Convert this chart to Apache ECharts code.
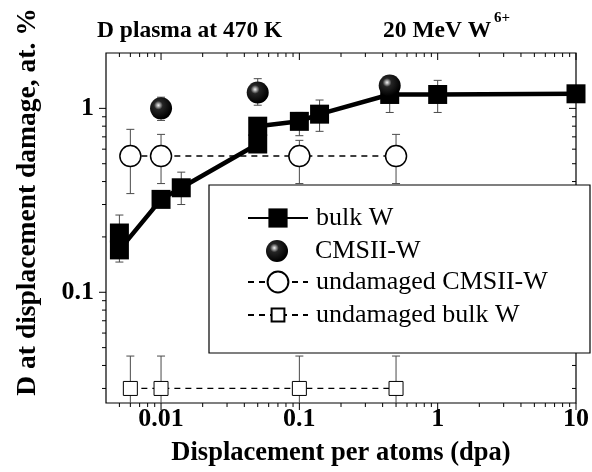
<!DOCTYPE html>
<html>
<head>
<meta charset="utf-8">
<script src="https://cdn.jsdelivr.net/npm/echarts@6/dist/echarts.min.js"></script>
<style>
html, body { margin: 0; padding: 0; background: #fff; }
#myChart { width: 592px; height: 472px; }
</style>
</head>
<body>
<div id="myChart"></div>
<script>
// bulk W, damaged
const bulkX = [0.005, 0.005, 0.01, 0.014, 0.05, 0.05, 0.1, 0.14, 0.45, 1, 10]
const bulkY = [0.21, 0.17, 0.32, 0.37, 0.64, 0.8, 0.85, 0.93, 1.19, 1.19, 1.2]
const bulkLo = [0.146, null, null, 0.3, null, null, 0.71, 0.75, 0.95, 0.95, null]
const bulkHi = [0.263, null, null, 0.45, null, null, 0.95, 1.11, 1.4, 1.42, null]
// CMSII-W, damaged
const cmsX = [0.01, 0.05, 0.45]
const cmsY = [1.0, 1.22, 1.33]
const cmsLo = [0.86, 1.04, 1.15]
const cmsHi = [1.15, 1.45, 1.5]
// undamaged CMSII-W
const undCmsX = [0.006, 0.01, 0.1, 0.5]
const undCmsY = [0.55, 0.55, 0.55, 0.55]
const undCmsLo = [0.344, 0.39, 0.39, 0.39]
const undCmsHi = [0.769, 0.722, 0.67, 0.722]
// undamaged bulk W
const undBulkX = [0.006, 0.01, 0.1, 0.5]
const undBulkY = [0.03, 0.03, 0.03, 0.03]
const undBulkLo = [0.02, 0.02, 0.02, 0.02]
const undBulkHi = [0.045, 0.045, 0.045, 0.045]
// ticks
const xMajor = [0.01, 0.1, 1, 10]
const xMinor = [0.005, 0.006, 0.007, 0.008, 0.009, 0.02, 0.03, 0.04, 0.05, 0.06, 0.07, 0.08, 0.09,
  0.2, 0.3, 0.4, 0.5, 0.6, 0.7, 0.8, 0.9, 2, 3, 4, 5, 6, 7, 8, 9]
const yMajor = [0.1, 1]
const yMinor = [0.03, 0.04, 0.05, 0.06, 0.07, 0.08, 0.09, 0.2, 0.3, 0.4, 0.5, 0.6, 0.7, 0.8, 0.9]

const serif = 'Liberation Serif, DejaVu Serif, serif'
const boldText = { fontFamily: serif, fontWeight: 'bold', fontSize: 23.5, color: '#000' }

function pairs (xs, ys) {
  return xs.map((x, i) => [x, ys[i]])
}

function isDecade (v) {
  const e = Math.log10(v)
  return Math.abs(e - Math.round(e)) < 1e-6
}

function decadeLabel (v) {
  return isDecade(v) ? String(Math.pow(10, Math.round(Math.log10(v)))) : ''
}

function errSeries (xs, lo, hi) {
  const data = []
  xs.forEach((x, i) => {
    if (lo[i] != null) data.push([x, lo[i], hi[i]])
  })
  return {
    type: 'custom',
    z: 1,
    silent: true,
    clip: true,
    encode: { x: 0, y: [1, 2] },
    data: data,
    renderItem (params, api) {
      const x = api.value(0)
      const a = api.coord([x, api.value(1)])
      const b = api.coord([x, api.value(2)])
      const st = { stroke: '#4a4a4a', lineWidth: 1 }
      return {
        type: 'group',
        children: [
          { type: 'line', shape: { x1: a[0], y1: a[1], x2: b[0], y2: b[1] }, style: st },
          { type: 'line', shape: { x1: a[0] - 4, y1: a[1], x2: a[0] + 4, y2: a[1] }, style: st },
          { type: 'line', shape: { x1: b[0] - 4, y1: b[1], x2: b[0] + 4, y2: b[1] }, style: st }
        ]
      }
    }
  }
}

// tick marks: [x, y, major, isX]
const tickData = []
xMajor.forEach(v => tickData.push([v, 1, 1, 1]))
xMinor.forEach(v => tickData.push([v, 1, 0, 1]))
yMajor.forEach(v => tickData.push([1, v, 1, 0]))
yMinor.forEach(v => tickData.push([1, v, 0, 0]))

const ball = {
  type: 'radial',
  x: 0.38,
  y: 0.36,
  r: 0.62,
  colorStops: [
    { offset: 0, color: '#f4f4f4' },
    { offset: 0.12, color: '#a8a8a8' },
    { offset: 0.32, color: '#252525' },
    { offset: 1, color: '#000' }
  ]
}

function legendOf (name, left, top, h, pad) {
  return {
    data: [name],
    left: left,
    top: top,
    padding: 0,
    itemWidth: 60,
    itemHeight: h,
    z: 8,
    selectedMode: false,
    textStyle: { fontFamily: serif, fontSize: 26, color: '#000', padding: [0, 0, 0, pad] }
  }
}

let myChart = echarts.init(document.getElementById('myChart'))
myChart.setOption({
  animation: false,
  title: [
    { text: 'D plasma at 470 K', left: 97, top: 19, padding: 0, textStyle: boldText },
    { text: '20 MeV W', left: 383, top: 19, padding: 0, textStyle: boldText },
    { text: '6+', left: 494, top: 11, padding: 0, textStyle: Object.assign({}, boldText, { fontSize: 15 }) }
  ],
  grid: {
    left: 106,
    right: 15,
    top: 53,
    bottom: 68,
    show: true,
    borderColor: '#000',
    borderWidth: 1.2,
    backgroundColor: 'transparent'
  },
  graphic: [
    {
      type: 'rect',
      z: 6,
      shape: { x: 209, y: 185, width: 381, height: 168 },
      style: { fill: '#fff', stroke: '#000', lineWidth: 1.2 }
    }
  ],
  legend: [
    legendOf('bulk W', 247, 205, 24, 3),
    legendOf('CMSII-W', 266, 238, 22, 3),
    legendOf('undamaged CMSII-W', 247, 269, 26, 3),
    legendOf('undamaged bulk W', 247, 302, 16, 3)
  ],
  xAxis: {
    type: 'log',
    logBase: 10,
    min: 0.004,
    max: 10,
    axisLine: { show: false },
    axisTick: { show: false },
    splitLine: { show: false },
    axisLabel: {
      margin: 3,
      formatter: decadeLabel,
      fontFamily: serif,
      fontWeight: 'bold',
      fontSize: 26,
      color: '#000'
    },
    name: 'Displacement per atoms (dpa)',
    nameLocation: 'middle',
    nameGap: 37,
    nameTextStyle: Object.assign({}, boldText, { fontSize: 26.5 })
  },
  yAxis: {
    type: 'log',
    logBase: 10,
    min: 0.025,
    max: 2,
    axisLine: { show: false },
    axisTick: { show: false },
    splitLine: { show: false },
    axisLabel: {
      margin: 12,
      formatter: decadeLabel,
      fontFamily: serif,
      fontWeight: 'bold',
      fontSize: 26,
      color: '#000'
    },
    name: 'D at displacement damage, at. %',
    nameLocation: 'middle',
    nameGap: 64,
    nameTextStyle: Object.assign({}, boldText, { fontSize: 27.5, padding: [0, 0, 0, 52] })
  },
  series: [
    {
      type: 'custom',
      z: 3,
      silent: true,
      clip: false,
      encode: { x: 0, y: 1 },
      data: tickData,
      renderItem (params, api) {
        const cs = params.coordSys
        const p = api.coord([api.value(0), api.value(1)])
        const len = api.value(2) ? 7 : 4
        const st = { stroke: '#000', lineWidth: 1 }
        if (api.value(3)) {
          const b = cs.y + cs.height
          return {
            type: 'group',
            children: [
              { type: 'line', shape: { x1: p[0], y1: b, x2: p[0], y2: b + len }, style: st },
              { type: 'line', shape: { x1: p[0], y1: cs.y, x2: p[0], y2: cs.y + len }, style: st }
            ]
          }
        }
        const r = cs.x + cs.width
        return {
          type: 'group',
          children: [
            { type: 'line', shape: { x1: cs.x - len, y1: p[1], x2: cs.x, y2: p[1] }, style: st },
            { type: 'line', shape: { x1: r - len, y1: p[1], x2: r, y2: p[1] }, style: st }
          ]
        }
      }
    },
    errSeries(bulkX, bulkLo, bulkHi),
    errSeries(cmsX, cmsLo, cmsHi),
    errSeries(undCmsX, undCmsLo, undCmsHi),
    errSeries(undBulkX, undBulkLo, undBulkHi),
    {
      name: 'undamaged bulk W',
      type: 'line',
      z: 2,
      data: pairs(undBulkX, undBulkY),
      symbol: 'rect',
      symbolSize: 14,
      itemStyle: { color: '#fff', borderColor: '#000', borderWidth: 1 },
      lineStyle: { color: '#000', width: 1.3, type: [6, 5] }
    },
    {
      name: 'undamaged CMSII-W',
      type: 'line',
      z: 2,
      data: pairs(undCmsX, undCmsY),
      symbol: 'circle',
      symbolSize: 21,
      itemStyle: { color: '#fff', borderColor: '#000', borderWidth: 1.5 },
      lineStyle: { color: '#000', width: 1.5, type: [6, 5] }
    },
    {
      name: 'bulk W',
      type: 'line',
      z: 3,
      data: pairs(bulkX, bulkY),
      symbol: 'rect',
      symbolSize: 19,
      itemStyle: { color: '#000' },
      lineStyle: { color: '#000', width: 4.5 }
    },
    {
      name: 'CMSII-W',
      type: 'scatter',
      z: 4,
      data: pairs(cmsX, cmsY),
      symbol: 'circle',
      symbolSize: 22,
      itemStyle: { color: ball, opacity: 1 }
    }
  ]
})
</script>
</body>
</html>
